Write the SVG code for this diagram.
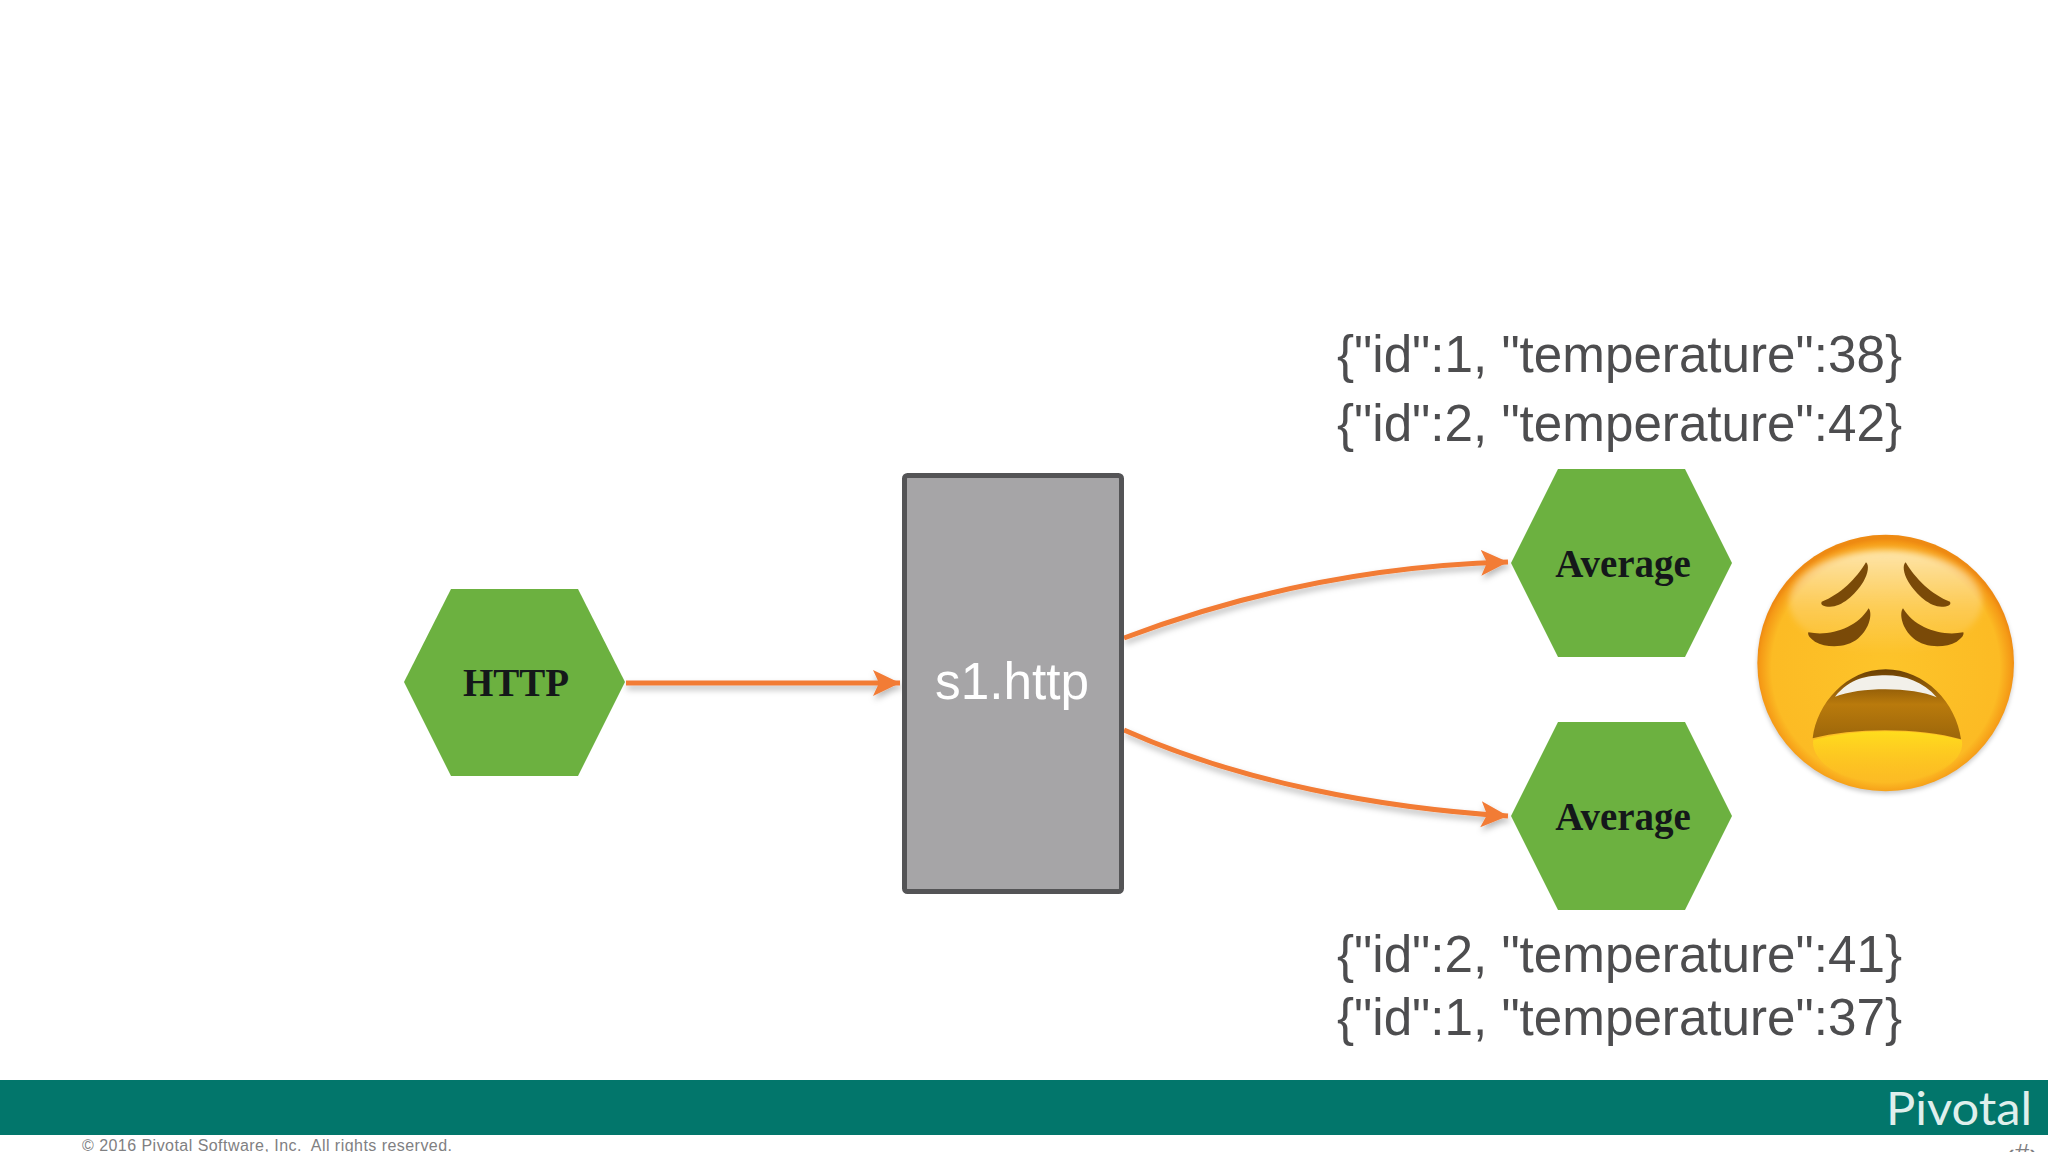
<svg xmlns="http://www.w3.org/2000/svg" width="2048" height="1152" viewBox="0 0 2048 1152">
<style>
.hex{fill:#6cb140}
.hl{font-family:"Liberation Serif",serif;font-weight:bold;font-size:39px;fill:#14181a;text-anchor:middle}
.js{font-family:"Liberation Sans",Arial,sans-serif;font-size:51.200px;fill:#4d4d4f}
.c{fill:none;stroke:#f27b36;stroke-width:5}
.br{fill:#7a4a08}
</style>
<defs>
<marker id="ah" markerUnits="userSpaceOnUse" markerWidth="28" markerHeight="28" refX="27" refY="14" orient="auto"><path d="M0,1 L27,14 L0,27 L6,14 Z" fill="#f27b36"/></marker>
<filter id="sh" x="-10%" y="-30%" width="120%" height="170%"><feDropShadow dx="1" dy="4" stdDeviation="3" flood-color="#000" flood-opacity=".28"/></filter>
<filter id="soft" x="-10%" y="-10%" width="120%" height="120%"><feGaussianBlur stdDeviation="9"/></filter>
<radialGradient id="face" cx=".5" cy=".52" r=".505"><stop offset="0" stop-color="#fdc42a"/><stop offset=".88" stop-color="#fcbb24"/><stop offset=".97" stop-color="#f59a16"/><stop offset="1" stop-color="#ee8a12"/></radialGradient>
<linearGradient id="shine" x1="0" y1="0" x2="0" y2="1"><stop offset="0" stop-color="#fff" stop-opacity=".62"/><stop offset=".55" stop-color="#fff" stop-opacity=".22"/><stop offset="1" stop-color="#fff" stop-opacity="0"/></linearGradient>
<linearGradient id="chin" x1="0" y1="0" x2="0" y2="1"><stop offset="0" stop-color="#ffe11c" stop-opacity=".9"/><stop offset="1" stop-color="#fdc81e" stop-opacity="0"/></linearGradient>
<linearGradient id="mouth" x1="0" y1="0" x2="0" y2="1"><stop offset="0" stop-color="#6a3f04"/><stop offset=".5" stop-color="#b97a0c"/><stop offset="1" stop-color="#9c660a"/></linearGradient>
</defs>
<rect width="2048" height="1152" fill="#fff"/>
<g id="connectors" filter="url(#sh)">
<path class="c" marker-end="url(#ah)" d="M626,683 L900,683"/>
<path class="c" marker-end="url(#ah)" d="M1124,638 C1230,598 1360,566 1508,562"/>
<path class="c" marker-end="url(#ah)" d="M1124,730 C1240,782 1380,808 1508,816"/>
</g>
<g id="http"><polygon class="hex" points="404,682 451,589 578,589 625,682 578,776 451,776"/><text class="hl" x="516" y="696">HTTP</text></g>
<g id="s1http"><rect x="904.500" y="475.500" width="217" height="416" rx="3" fill="#a6a5a7" stroke="#545456" stroke-width="5"/><text x="1012" y="699" font-family="'Liberation Sans',Arial,sans-serif" font-size="51.300" fill="#fff" text-anchor="middle">s1.http</text></g>
<g id="avg1"><polygon class="hex" points="1511,563 1558,469 1685,469 1732,563 1685,657 1558,657"/><text class="hl" x="1623" y="577">Average</text></g>
<g id="avg2"><polygon class="hex" points="1511,816 1558,722 1685,722 1732,816 1685,910 1558,910"/><text class="hl" x="1623" y="830">Average</text></g>
<g id="messages">
<text class="js" x="1337" y="372">{"id":1, "temperature":38}</text>
<text class="js" x="1337" y="441">{"id":2, "temperature":42}</text>
<text class="js" x="1337" y="972">{"id":2, "temperature":41}</text>
<text class="js" x="1337" y="1035">{"id":1, "temperature":37}</text>
</g>
<g id="emoji" transform="translate(1720 500) scale(.33333)">
<circle cx="497" cy="489" r="385" fill="url(#face)" style="filter:drop-shadow(0 8px 6px rgba(0,0,0,.2))"/>
<ellipse cx="497" cy="305" rx="290" ry="155" fill="url(#shine)" filter="url(#soft)"/>
<path d="M280,720 C400,685 600,685 725,720 C740,780 640,850 497,850 C360,850 270,780 280,720 Z" fill="url(#chin)"/>
<path class="br" d="M305,305 C360,285 410,235 438,187 C448,195 445,220 430,245 C405,285 365,320 330,320 C312,320 300,315 305,305 Z"/>
<path class="br" d="M690,305 C635,285 585,235 557,187 C547,195 550,220 565,245 C590,285 630,320 665,320 C683,320 695,315 690,305 Z"/>
<path class="br" d="M265,397 C330,410 410,385 446,325 C458,340 450,385 415,415 C380,445 320,445 285,425 C270,415 262,405 265,397 Z"/>
<path class="br" d="M730,397 C665,410 585,385 549,325 C537,340 545,385 580,415 C615,445 675,445 710,425 C725,415 733,405 730,397 Z"/>
<path d="M278,715 C290,610 380,508 497,508 C615,508 710,610 723,718 C600,682 400,682 278,715 Z" fill="url(#mouth)"/>
<path d="M345,590 C390,535 440,526 497,526 C555,526 610,545 650,592 C580,560 420,560 345,590 Z" fill="#f2f0ea"/>
</g>
<g id="footer">
<rect y="1080" width="2048" height="55" fill="#02766b"/>
<text x="1886" y="1125" font-family="Lato,sans-serif" font-weight="400" font-size="47" fill="#dfefec" textLength="146" lengthAdjust="spacingAndGlyphs">Pivotal</text>
<text x="82" y="1151" font-family="'Liberation Sans',Arial,sans-serif" font-size="16" fill="#808082" textLength="370" xml:space="preserve">© 2016 Pivotal Software, Inc.  All rights reserved.</text>
<text x="2022" y="1162" font-family="'Liberation Sans',Arial,sans-serif" font-size="26" fill="#808082" text-anchor="middle">‹#›</text>
</g>
</svg>
